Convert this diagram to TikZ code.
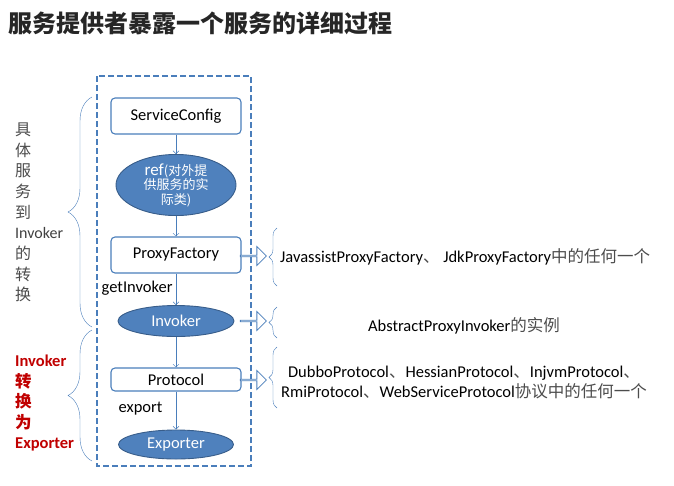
\documentclass[tikz,border=0pt]{standalone}
\usepackage{fontspec}
\setmainfont{Carlito}
\newfontfamily\cjk{Noto Sans CJK SC}
\usetikzlibrary{arrows.meta,shapes.geometric,shapes.arrows,decorations.pathreplacing}
\definecolor{lineblue}{HTML}{4A7EBB}
\definecolor{fillblue}{HTML}{4F81BD}
\definecolor{edgeblue}{HTML}{385D8A}
\definecolor{darkred}{HTML}{C00000}
\newcommand{\zh}[1]{{\cjk\color{black!70}#1}}

\begin{document}
\begin{tikzpicture}[x=1pt,y=-1pt,font=\fontsize{16.5}{19}\selectfont,
    stepbox/.style={draw=lineblue,line width=1.1pt,fill=white,rounded corners=4pt,minimum width=130pt,inner sep=0pt},
    objnode/.style={ellipse,draw=edgeblue,line width=0.9pt,fill=fillblue,text=white,inner sep=0pt},
    flow/.style={draw=lineblue,-{Straight Barb[length=3pt,width=6pt]}},
    hollow/.style={single arrow,draw=lineblue,thick,fill=white,minimum height=26pt,minimum width=19pt,
      single arrow head extend=4.5pt,inner sep=0pt},
    brc/.style={draw=lineblue,decorate,decoration={brace,amplitude=#1}},
    frame/.style={draw=lineblue,line width=1.5pt,dash pattern=on 6pt off 3pt}]

      \useasboundingbox (0,0) rectangle (674,485);

      % タイトル
      \node[anchor=west,inner sep=0pt] (title) at (8,23)
        {\cjk\bfseries\fontsize{24}{28}\selectfont\color{black!85}服务提供者暴露一个服务的详细过程};

      % 点線の枠
      \draw[frame] (97,76) rectangle (251,466);

      % 流れ
      \node[stepbox,minimum height=36pt] (sc) at (176,116) {ServiceConfig};
      \node[objnode,minimum width=120pt,minimum height=45pt,align=center,
        font=\fontsize{13}{14.5}\selectfont] (ref) at (176,185)
        {{\fontsize{17}{14.5}\selectfont ref}{\cjk(对外提}\\{\cjk 供服务的实}\\{\cjk 际类)}};
      \node[stepbox,minimum height=36pt] (pf) at (176,255) {ProxyFactory};
      \node[objnode,minimum width=116pt,minimum height=31pt] (inv) at (176,321) {Invoker};
      \node[stepbox,minimum height=23pt] (proto) at (176,379.5) {Protocol};
      \node[objnode,minimum width=115pt,minimum height=29pt] (exp) at (176,444.5) {Exporter};

      \draw[flow] (sc) -- (ref);
      \draw[flow] (ref) -- (pf);
      \draw[flow] (pf) -- node[pos=0.45,left=0pt] (getinv) {getInvoker} (inv);
      \draw[flow] (inv) -- (proto);
      \draw[flow] (proto) -- node[pos=0.44,left=10pt] (exportlbl) {export} (exp);

      % 右側の矢印と括弧
      \node[hollow] (arrpf) at (253,256) {};
      \node[hollow] (arrinv) at (253,321) {};
      \node[hollow] (arrproto) at (253,380) {};
      \draw[brc=8pt] (277,286) -- (277,228);
      \draw[brc=8pt] (277,338) -- (277,307);
      \draw[brc=8pt] (277,408) -- (277,347);

      \node[anchor=west,inner sep=0pt] (pfnote) at (280,257)
        {JavassistProxyFactory\zh{、} JdkProxyFactory\zh{中的任何一个}};
      \node[inner sep=0pt] (invnote) at (464,326) {AbstractProxyInvoker\zh{的实例}};
      \node[inner sep=0pt,align=center,font=\fontsize{16.5}{20}\selectfont] (protonote) at (464,382)
        {DubboProtocol\zh{、}HessianProtocol\zh{、}InjvmProtocol\zh{、}\\
         RmiProtocol\zh{、}WebServiceProtocol\zh{协议中的任何一个}};

      % 左側の括弧と説明
      \draw[brc=24pt] (92,327) -- (92,97);
      \draw[brc=24pt] (92,461) -- (92,330);
      \node[anchor=west,inner sep=0pt,align=left,font=\fontsize{16}{20.7}\selectfont] (leftnote) at (15,212.5)
        {\zh{具}\\\zh{体}\\\zh{服}\\\zh{务}\\\zh{到}\\{\color{black!75}Invoker}\\\zh{的}\\\zh{转}\\\zh{换}};
      \node[anchor=west,inner sep=0pt,align=left,text=darkred,font=\fontsize{16.5}{20.5}\selectfont\bfseries] (rednote) at (15,403)
        {Invoker\\{\cjk 转}\\{\cjk 换}\\{\cjk 为}\\Exporter};

\end{tikzpicture}
\end{document}
